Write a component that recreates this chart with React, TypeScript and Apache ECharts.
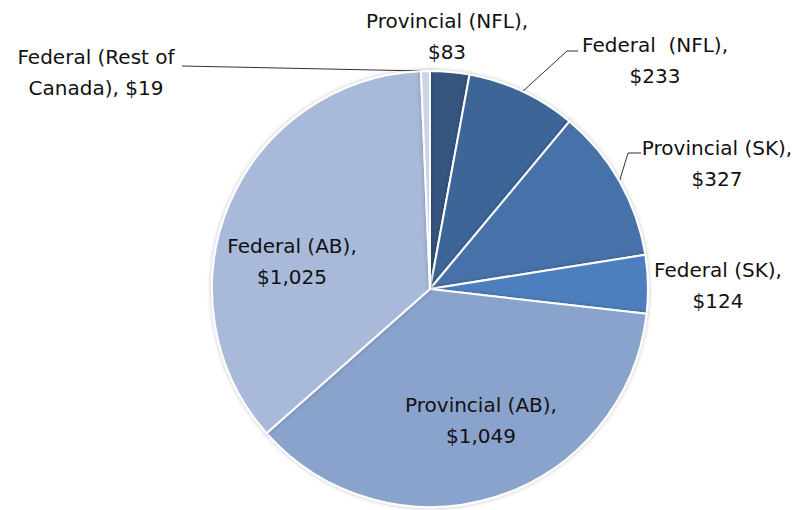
import React, { useEffect, useRef } from "react";
import * as echarts from "echarts";

const categories = [
  "Provincial (NFL)",
  "Federal  (NFL)",
  "Provincial (SK)",
  "Federal (SK)",
  "Provincial (AB)",
  "Federal (AB)",
  "Federal (Rest of Canada)",
];
const values = [83, 233, 327, 124, 1049, 1025, 19];
const colors = ["#34557f", "#3e6598", "#4672a9", "#4d7fbe", "#89a3cd", "#a8b9d9", "#ccd5e8"];
// label layout (centres), whether a leader line is drawn, and its elbow points
const labelCenters: [number, number][] = [
  [447, 36],
  [655, 60],
  [717, 163],
  [718, 285],
  [481, 420],
  [292, 261],
  [96, 72],
];
const leaderElbows: ([number, number][] | null)[] = [
  null,
  [[567, 51], [578, 51]],
  [[628, 153], [641, 153]],
  null,
  null,
  null,
  [[182, 66], [182, 66]],
];

const fmt = (v: number) => v.toLocaleString("en-US");

export default function App() {
  const ref = useRef<HTMLDivElement>(null);
  useEffect(() => {
    document.body.style.margin = "0";
    const chart = echarts.init(ref.current!, null, { renderer: "svg" });
    chart.setOption({
      animation: false,
      backgroundColor: "#ffffff",
      series: [
        {
          type: "pie",
          center: [430, 289],
          radius: 218,
          startAngle: 90,
          clockwise: true,
          avoidLabelOverlap: false,
          itemStyle: {
            borderColor: "#ffffff",
            borderWidth: 2,
            shadowBlur: 4,
            shadowColor: "rgba(0,0,0,0.25)",
          },
          label: {
            show: true,
            position: "outside",
            fontFamily: "DejaVu Sans",
            fontSize: 20,
            lineHeight: 31,
            color: "#111111",
            align: "center",
            formatter: (p: any) => {
              const name: string = p.name;
              if (name.indexOf("Rest of ") >= 0) {
                return name.replace("Rest of ", "Rest of\n") + ", $" + fmt(p.value);
              }
              return name + ",\n$" + fmt(p.value);
            },
          },
          labelLine: {
            show: true,
            lineStyle: { color: "#333333", width: 1 },
          },
          labelLayout: (params: any) => {
            const i = params.dataIndex;
            const c = labelCenters[i];
            const res: any = {
              x: c[0],
              y: c[1],
              align: "center",
              verticalAlign: "middle",
            };
            const el = leaderElbows[i];
            if (el && params.labelLinePoints) {
              res.labelLinePoints = [params.labelLinePoints[0], el[0], el[1]];
            }
            return res;
          },
          data: categories.map((name, i) => ({
            name,
            value: values[i],
            itemStyle: { color: colors[i] },
            labelLine: { show: leaderElbows[i] !== null },
          })),
        },
      ],
    });
    return () => chart.dispose();
  }, []);
  return <div ref={ref} style={{ width: 794, height: 510 }} />;
}
